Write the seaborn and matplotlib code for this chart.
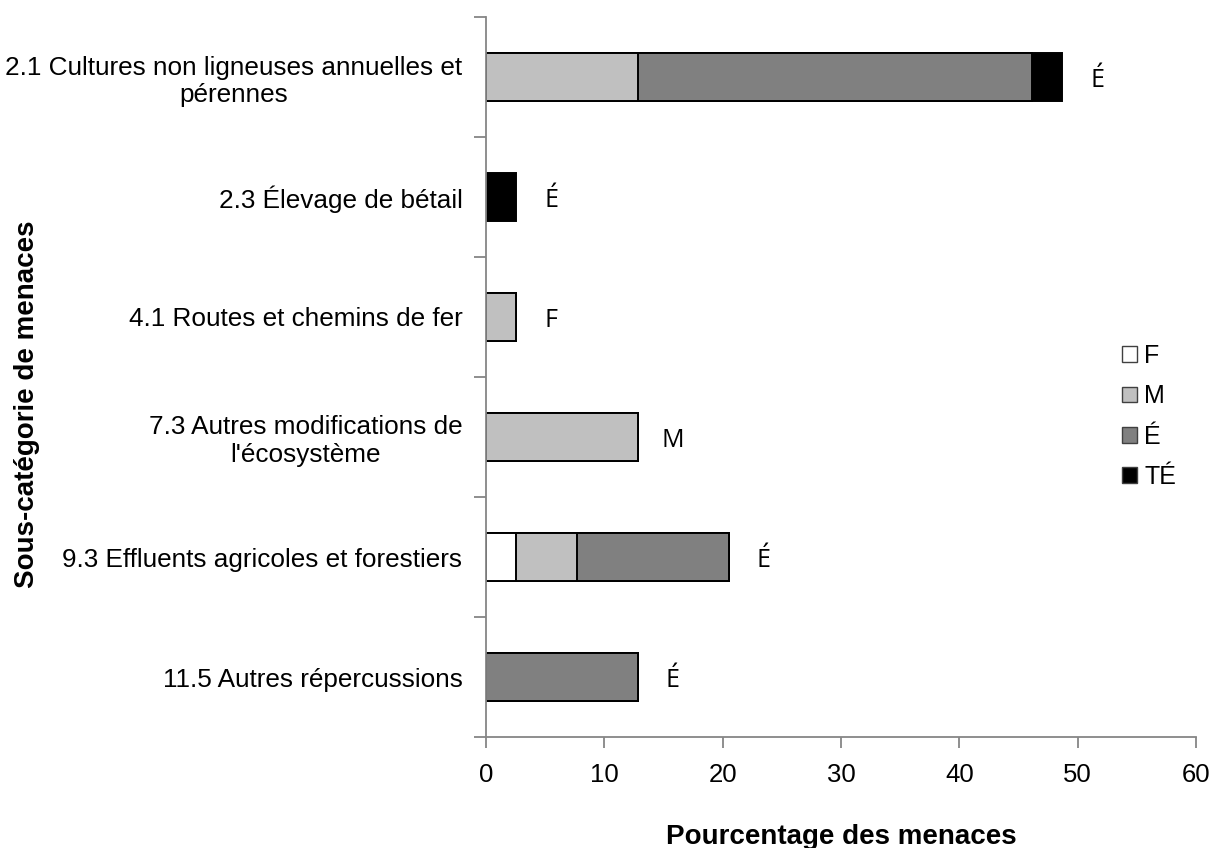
import numpy as np
import pandas as pd
import matplotlib
matplotlib.use('Agg')
import matplotlib.pyplot as plt
import seaborn as sns
from matplotlib.patches import Patch

# sous-catégories de menaces (de haut en bas)
categories = ["2.1 Cultures non ligneuses annuelles et\npérennes",
              "2.3 Élevage de bétail",
              "4.1 Routes et chemins de fer",
              "7.3 Autres modifications de\nl'écosystème",
              "9.3 Effluents agricoles et forestiers",
              "11.5 Autres répercussions"]

# pourcentage des menaces par niveau d'impact
F = [0, 0, 0, 0, 2.56, 0]
M = [12.82, 0, 2.56, 12.82, 5.13, 0]
E = [33.33, 0, 0, 0, 12.82, 12.82]
TE = [2.56, 2.56, 0, 0, 0, 0]

# impact global affiché à droite des barres
etiquettes = ['É', 'É', 'F', 'M', 'É', 'É']

niveaux = ['F', 'M', 'É', 'TÉ']
couleurs = {'F': 'white', 'M': '#c0c0c0', 'É': '#808080', 'TÉ': 'black'}

sns.set_style('white')
plt.rcParams['font.family'] = ['Liberation Sans', 'DejaVu Sans']
plt.rcParams['text.color'] = 'black'
plt.rcParams['axes.labelcolor'] = 'black'
plt.rcParams['xtick.color'] = 'black'
plt.rcParams['ytick.color'] = 'black'

df = pd.DataFrame({'categorie': categories, 'F': F, 'M': M, 'É': E, 'TÉ': TE})
cumul = df[niveaux].cumsum(axis=1)

fig = plt.figure(figsize=(12.12, 8.48), dpi=100)
ax = fig.add_axes([486/1212, 1-737/848, 710/1212, 720/848])

# barres empilées : on superpose les sommes cumulées, de la plus longue à la plus courte
for niveau in niveaux[::-1]:
    sns.barplot(x=cumul[niveau].values, y=df['categorie'], orient='h',
                color=couleurs[niveau], saturation=1, edgecolor='black',
                linewidth=1.4, width=0.4, ax=ax)

ax.set_xlim(0, 60)
ax.set_ylim(5.5, -0.5)
ax.set_xlabel('')
ax.set_ylabel('')

for cote in ['top', 'right']:
    ax.spines[cote].set_visible(False)
for cote in ['left', 'bottom']:
    ax.spines[cote].set_color('#868686')
    ax.spines[cote].set_linewidth(1.3)

ax.set_xticks(np.arange(0, 61, 10))
ax.tick_params(axis='x', bottom=True, length=8, width=1.3, color='#868686',
               labelcolor='black', labelsize=18.5, pad=11)

ax.set_yticks(range(len(categories)))
ax.set_yticklabels(categories)
ax.set_yticks(np.arange(-0.5, len(categories), 1), minor=True)
ax.tick_params(axis='y', which='major', left=True, length=0, labelsize=18.8,
               labelcolor='black', pad=17)
ax.tick_params(axis='y', which='minor', left=True, length=9, width=1.3, color='#868686')
for lab in ax.get_yticklabels():
    lab.set_multialignment('center')

# étiquettes d'impact
for i, (total, lab) in enumerate(zip(cumul['TÉ'], etiquettes)):
    ax.text(total + 2.95, i + 0.03, lab, ha='center', va='center', fontsize=18,
            family=['Open Sans', 'DejaVu Sans'])

fig.text(841/1212, 1-844/848, 'Pourcentage des menaces', ha='center', va='baseline',
         fontsize=20, fontweight='bold')
fig.text(27/1212, 1-404/848, 'Sous-catégorie de menaces', ha='center', va='center',
         rotation=90, fontsize=20, fontweight='bold')

poignees = [Patch(facecolor=couleurs[k], edgecolor='#404040', label=k) for k in niveaux]
fig.legend(handles=poignees, loc='upper left', bbox_to_anchor=(1122/1212, 1-344/848),
           frameon=False, fontsize=18, handlelength=0.6, handleheight=0.6,
           handletextpad=0.3, labelspacing=0.65, borderpad=0, borderaxespad=0)

fig.savefig('out.png', dpi=100)
